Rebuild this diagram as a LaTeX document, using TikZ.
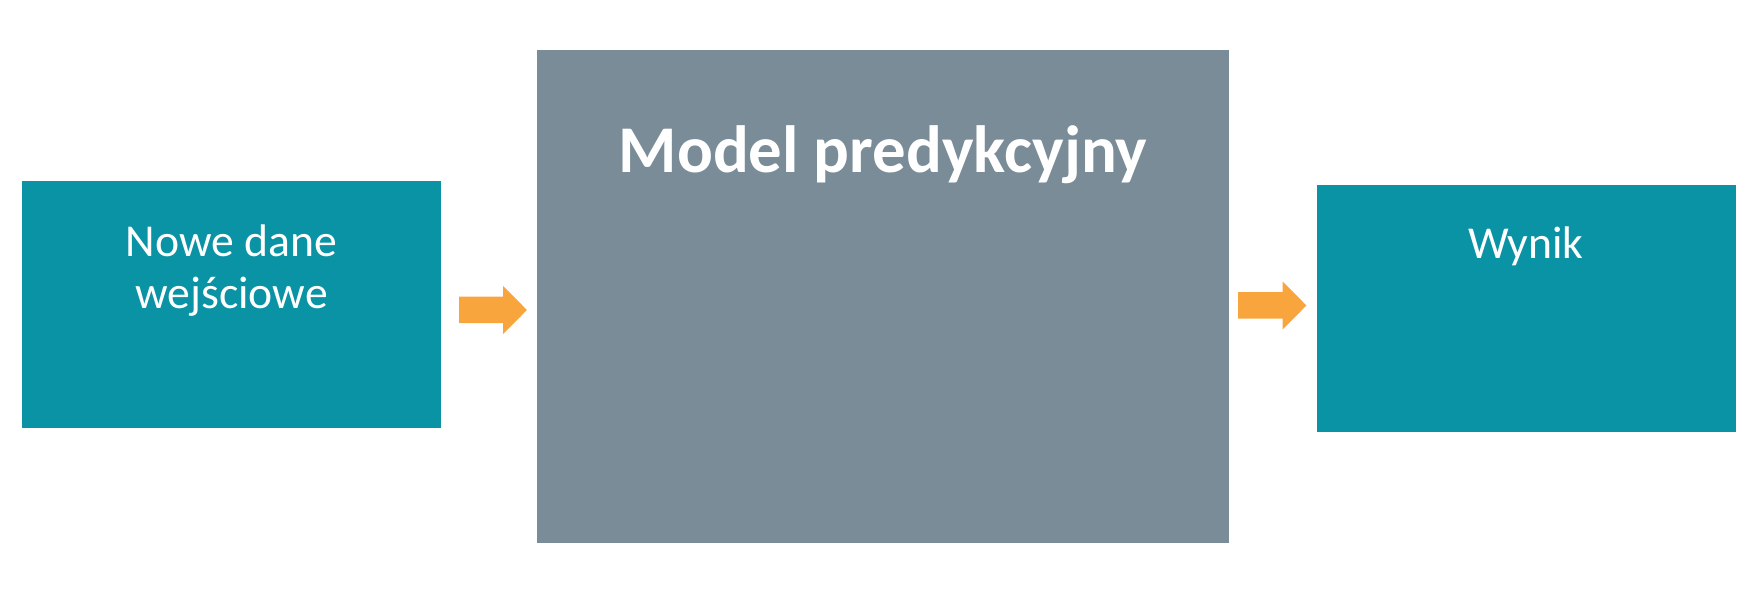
\documentclass[tikz,border=0pt]{standalone}
\usepackage{fontspec}
\setmainfont{Carlito}
\usetikzlibrary{arrows.meta,positioning}
\definecolor{Teal1}{HTML}{0A93A4}
\definecolor{Slate1}{HTML}{7A8C97}
\definecolor{Amber1}{HTML}{F9A53D}

\begin{document}
\begin{tikzpicture}[
                    >={Triangle[length=4.8mm,width=9.4mm]},
                    box/.style = {inner sep=0pt, outer sep=0pt, draw=none},
                    io/.style = {box, fill=Teal1, minimum width=8.38cm, minimum height=4.94cm},
                    mdl/.style = {box, fill=Slate1, minimum width=13.84cm, minimum height=9.86cm},
                    txt/.style = {inner sep=0pt, text=white, align=center, anchor=base,
                                  font=\fontsize{26}{30}\selectfont},
                    flow/.style = {->, draw=Amber1, line width=5.3mm, shorten >=2mm}
                    ]
\useasboundingbox (0,0) rectangle (35.12,11.84);

\node[io]  (in)    at (4.63,5.75)  {};
\node[mdl] (model) at (17.66,5.91) {};
\node[io]  (out)   at (30.52,5.67) {};

% base of a two-line node sits on its last line
\node[txt] (inlbl)  at ([yshift=-2.56cm]in.north)  {Nowe dane\\wejściowe};
\node[txt, font=\bfseries\fontsize{38}{42}\selectfont]
           (mdllbl) at ([yshift=-2.45cm]model.north) {Model predykcyjny};
\node[txt] (outlbl) at ([yshift=-1.47cm]out.north) {Wynik};

\draw[flow, shorten <=3.6mm] ([yshift=-1.1mm]in.east)    -- ([yshift=-2.7mm]model.west);
\draw[flow, shorten <=1.8mm] ([yshift=-1.8mm]model.east) -- ([yshift=0.6mm]out.west);
\end{tikzpicture}
\end{document}
